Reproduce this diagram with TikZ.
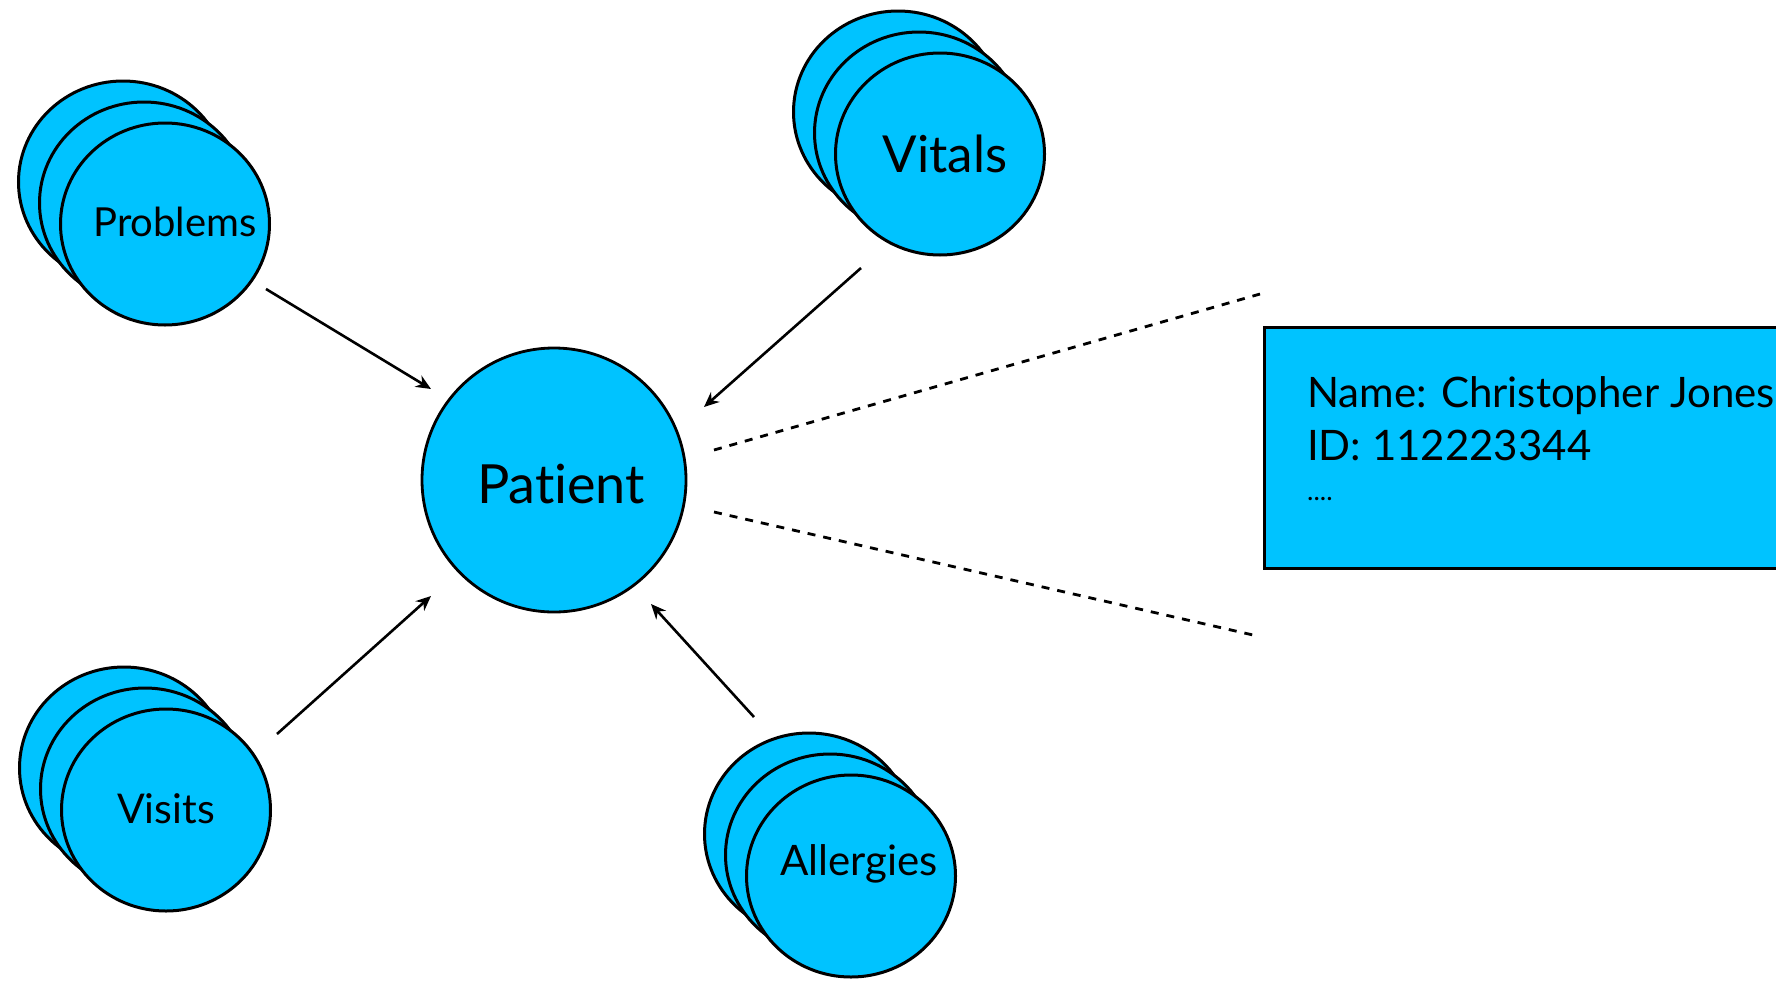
\documentclass[tikz,border=0pt]{standalone}
\usepackage{fontspec}
\setmainfont[Ligatures=NoCommon]{Lato}
\usetikzlibrary{shapes.geometric,arrows.meta}
\definecolor{entity}{RGB}{0,195,255}
\begin{document}
\begin{tikzpicture}[x=1pt,y=-1pt,
  bubble/.style={ellipse,draw=black,fill=entity,line width=3pt,
    minimum width=209pt,minimum height=202pt,inner sep=0pt},
  hub/.style={circle,draw=black,fill=entity,line width=2.8pt,
    minimum size=264pt,inner sep=0pt},
  infobox/.style={rectangle,draw=black,fill=entity,line width=3pt,
    anchor=north west,minimum width=600pt,minimum height=241pt,inner sep=0pt},
  txt/.style={anchor=base,inner sep=0pt,font=\fontsize{#1}{#1}\selectfont},
  linetxt/.style={anchor=base west,inner sep=0pt,font=\fontsize{#1}{#1}\selectfont},
  feed/.style={-{Stealth[length=15pt,width=13pt]},line width=2.6pt},
  zoomline/.style={dash pattern=on 8pt off 8pt,line width=2.8pt}]

\useasboundingbox (0,0) rectangle (1776,980);
\clip (0,0) rectangle (1776,980);

% stacked record sets
\node[bubble] (prob3) at (123,182) {};
\node[bubble] (prob2) at (144,203) {};
\node[bubble] (prob)  at (165,224) {};
\node[txt=40] (probtext) at (175,236) {Problems};

\node[bubble] (vit3) at (898,112) {};
\node[bubble] (vit2) at (919,133) {};
\node[bubble] (vit)  at (940,154) {};
\node[txt=51] (vittext) at (945,172) {Vitals};

\node[bubble] (vis3) at (124,768) {};
\node[bubble] (vis2) at (145,789) {};
\node[bubble] (vis)  at (166,810) {};
\node[txt=41] (vistext) at (166,823) {Visits};

\node[bubble] (all3) at (809,834) {};
\node[bubble] (all2) at (830,855) {};
\node[bubble] (all)  at (851,876) {};
\node[txt=42] (alltext) at (859,875) {Allergies};

% central entity
\node[hub] (patient) at (554,480) {};
\node[txt=54] (pattext) at (561,503) {Patient};

% detail record
\node[infobox] (info) at (1263,326) {};
\node[linetxt=42] (name) at (1307,407) {Name: Christopher Jones};
\node[linetxt=42] (id) at (1307,460) {ID: 112223344};
\node[linetxt=27] (more) at (1307,500) {....};

% links into the patient
\draw[feed] ([shift={(101,65)}]prob.center) -- ([shift={(-123,-91)}]patient.center);
\draw[feed] ([shift={(-79,114)}]vit.center) -- ([shift={(150,-73)}]patient.center);
\draw[feed] ([shift={(111,-76)}]vis.center) -- ([shift={(-123,116)}]patient.center);
\draw[feed] ([shift={(-97,-159)}]all.center) -- ([shift={(97,124)}]patient.center);

% zoom lines towards the record
\coordinate (zt0) at ([shift={(160,-30)}]patient.center);
\coordinate (zb0) at ([shift={(160,32)}]patient.center);
\coordinate (zt1) at ([shift={(-3,-32)}]info.north west);
\coordinate (zb1) at ([shift={(-10,65)}]info.south west);
\draw[zoomline] (zt0) -- (zt1);
\draw[zoomline] (zb0) -- (zb1);
\end{tikzpicture}
\end{document}
